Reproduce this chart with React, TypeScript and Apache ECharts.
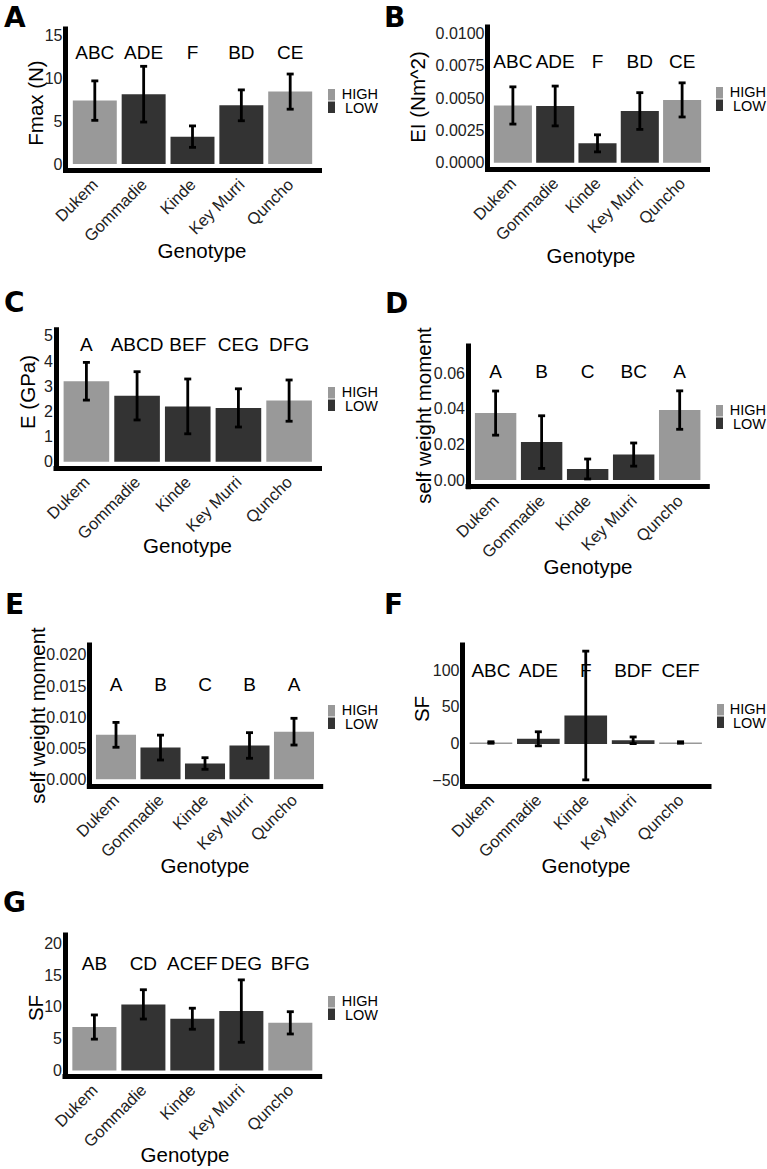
import React, { useEffect, useRef } from "react";
import * as echarts from "echarts";

// ---------- data ----------
const genotypes = ["Dukem", "Gommadie", "Kinde", "Key Murri", "Quncho"];
const nitrogenGroup = ["HIGH", "LOW", "LOW", "LOW", "HIGH"];

const fmaxMean = [7.4, 8.15, 3.2, 6.85, 8.45];
const fmaxSd = [2.3, 3.25, 1.25, 1.8, 2.05];
const fmaxLetters = ["ABC", "ADE", "F", "BD", "CE"];
const fmaxTicks = [0, 5, 10, 15];

const eiMean = [0.00443, 0.00439, 0.0015, 0.004, 0.00486];
const eiSd = [0.00144, 0.00154, 0.00066, 0.00142, 0.00132];
const eiLetters = ["ABC", "ADE", "F", "BD", "CE"];
const eiTicks = [0, 0.0025, 0.005, 0.0075, 0.01];

const eMean = [3.2, 2.62, 2.2, 2.14, 2.43];
const eSd = [0.75, 0.96, 1.09, 0.76, 0.82];
const eLetters = ["A", "ABCD", "BEF", "CEG", "DFG"];
const eTicks = [0, 1, 2, 3, 4, 5];

const swmDMean = [0.0376, 0.0213, 0.0062, 0.0143, 0.0393];
const swmDSd = [0.0124, 0.0148, 0.0056, 0.0065, 0.0108];
const swmDLetters = ["A", "B", "C", "BC", "A"];
const swmDTicks = [0, 0.02, 0.04, 0.06];

const swmEMean = [0.00715, 0.0051, 0.00254, 0.00544, 0.00766];
const swmESd = [0.002, 0.002, 0.00093, 0.00206, 0.00215];
const swmELetters = ["A", "B", "C", "B", "A"];
const swmETicks = [0, 0.005, 0.01, 0.015, 0.02];

const sfFMean = [2, 7, 38.5, 5, 2];
const sfFSd = [1, 9.5, 87, 4.5, 1];
const sfFLetters = ["ABC", "ADE", "F", "BDF", "CEF"];
const sfFTicks = [-50, 0, 50, 100];

const sfGMean = [6.84, 10.4, 8.15, 9.35, 7.5];
const sfGSd = [1.9, 2.3, 1.65, 4.9, 1.75];
const sfGLetters = ["AB", "CD", "ACEF", "DEG", "BFG"];
const sfGTicks = [0, 5, 10, 15, 20];

const legendNames = ["HIGH", "LOW"];

// ---------- layout ----------
const FONT = "'Liberation Sans', Arial, Helvetica, sans-serif";
const HIGH_COLOR = "#999999";
const LOW_COLOR = "#333333";
const TICK_COLOR = "#222";

type Panel = {
  tag: string;
  yTitle: string;
  mean: number[];
  sd: number[];
  letters: string[];
  letterY: number;
  ticks: number[];
  decimals: number;
  yMin: number;
  yMax: number;
  grid: { left: number; top: number; width: number; height: number };
  tagPos: [number, number, "top" | "middle"];
  yTitlePos: [number, number];
  xTitlePos: [number, number];
  legendPos: [number, number, number];
};

const panels: Panel[] = [
  {
    tag: "A", yTitle: "Fmax (N)", mean: fmaxMean, sd: fmaxSd, letters: fmaxLetters,
    letterY: 13, ticks: fmaxTicks, decimals: 0, yMin: -0.75, yMax: 15.75,
    grid: { left: 65.5, top: 29, width: 254, height: 141.5 },
    tagPos: [4, 3, "top"], yTitlePos: [35, 103], xTitlePos: [202, 250], legendPos: [328, 89, 378],
  },
  {
    tag: "B", yTitle: "EI (Nm^2)", mean: eiMean, sd: eiSd, letters: eiLetters,
    letterY: 0.0078, ticks: eiTicks, decimals: 4, yMin: -0.0005, yMax: 0.0105,
    grid: { left: 487.5, top: 27, width: 220, height: 142.2 },
    tagPos: [384, 3, "top"], yTitlePos: [417, 97], xTitlePos: [591, 255], legendPos: [716, 87, 766],
  },
  {
    tag: "C", yTitle: "E (GPa)", mean: eMean, sd: eSd, letters: eLetters,
    letterY: 4.65, ticks: eTicks, decimals: 0, yMin: -0.25, yMax: 5.25,
    grid: { left: 56, top: 329.7, width: 263.5, height: 138.3 },
    tagPos: [4, 302.5, "middle"], yTitlePos: [27, 392], xTitlePos: [187.5, 545], legendPos: [328, 387, 378],
  },
  {
    tag: "D", yTitle: "self weight moment", mean: swmDMean, sd: swmDSd, letters: swmDLetters,
    letterY: 0.061, ticks: swmDTicks, decimals: 2, yMin: -0.00376, yMax: 0.0753,
    grid: { left: 468, top: 346, width: 239.3, height: 140.7 },
    tagPos: [385, 303, "middle"], yTitlePos: [423, 415.5], xTitlePos: [588, 566], legendPos: [716, 405, 766],
  },
  {
    tag: "E", yTitle: "self weight moment", mean: swmEMean, sd: swmESd, letters: swmELetters,
    letterY: 0.0152, ticks: swmETicks, decimals: 3, yMin: -0.00108, yMax: 0.0216,
    grid: { left: 89.3, top: 645, width: 231.4, height: 141 },
    tagPos: [5, 604, "middle"], yTitlePos: [37.5, 715.5], xTitlePos: [205, 865], legendPos: [328, 705, 378],
  },
  {
    tag: "F", yTitle: "SF", mean: sfFMean, sd: sfFSd, letters: sfFLetters,
    letterY: 100, ticks: sfFTicks, decimals: 0, yMin: -56.8, yMax: 133.8,
    grid: { left: 462.5, top: 645, width: 246.5, height: 141 },
    tagPos: [384, 604, "middle"], yTitlePos: [421.5, 709], xTitlePos: [586, 865], legendPos: [717, 704, 766],
  },
  {
    tag: "G", yTitle: "SF", mean: sfGMean, sd: sfGSd, letters: sfGLetters,
    letterY: 16.75, ticks: sfGTicks, decimals: 0, yMin: -0.85, yMax: 21.3,
    grid: { left: 65, top: 935, width: 254.7, height: 141 },
    tagPos: [3, 902.5, "middle"], yTitlePos: [35, 1008], xTitlePos: [185, 1154], legendPos: [328, 996, 378],
  },
];

const X_MIN = 0.4;
const X_MAX = 5.6;

function fmtTick(v: number, d: number): string {
  const s = v.toFixed(d);
  return s.startsWith("-") ? "\u2212" + s.slice(1) : s;
}

function buildOption() {
  const axisLineStyle = { color: "#000", width: 5, cap: "square" as const };
  const grid = panels.map((p) => ({
    left: p.grid.left, top: p.grid.top, width: p.grid.width, height: p.grid.height,
    containLabel: false,
  }));
  const xAxis = panels.map((p, i) => ({
    type: "value", gridIndex: i, min: X_MIN, max: X_MAX,
    splitLine: { show: false },
    axisLine: { show: true, onZero: false, lineStyle: axisLineStyle },
    axisTick: { show: false },
    axisLabel: {
      show: true, customValues: [1, 2, 3, 4, 5],
      formatter: (v: number) => genotypes[Math.round(v) - 1] ?? "",
      rotate: 45, margin: 11, fontSize: 16.5, color: TICK_COLOR, fontFamily: FONT,
    },
  }));
  const yAxis = panels.map((p, i) => ({
    type: "value", gridIndex: i, min: p.yMin, max: p.yMax,
    splitLine: { show: false },
    axisLine: { show: true, onZero: false, lineStyle: axisLineStyle },
    axisTick: { show: false },
    axisLabel: {
      show: true, customValues: p.ticks,
      formatter: (v: number) => fmtTick(v, p.decimals),
      margin: 3, fontSize: 16, color: TICK_COLOR, fontFamily: FONT,
    },
  }));

  const series: any[] = [];
  panels.forEach((p, i) => {
    const bw = (0.9 * p.grid.width) / (X_MAX - X_MIN);
    legendNames.forEach((grp) => {
      series.push({
        type: "bar", name: grp, xAxisIndex: i, yAxisIndex: i,
        barWidth: bw, barGap: "-100%",
        itemStyle: { color: grp === "HIGH" ? HIGH_COLOR : LOW_COLOR },
        data: p.mean
          .map((m, j) => (nitrogenGroup[j] === grp ? [j + 1, m] : null))
          .filter((d) => d !== null),
        z: 2,
      });
    });
    series.push({
      type: "custom", name: "errorbar-" + p.tag, xAxisIndex: i, yAxisIndex: i,
      data: p.mean.map((m, j) => [j + 1, m - p.sd[j], m + p.sd[j]]),
      z: 10,
      renderItem: (_params: any, api: any) => {
        const x = api.value(0);
        const lo = api.coord([x, api.value(1)]);
        const hi = api.coord([x, api.value(2)]);
        const hw = 3.5;
        const st = { stroke: "#000", lineWidth: 2.8 };
        return {
          type: "group",
          children: [
            { type: "line", shape: { x1: lo[0], y1: lo[1], x2: hi[0], y2: hi[1] }, style: st },
            { type: "line", shape: { x1: lo[0] - hw, y1: lo[1], x2: lo[0] + hw, y2: lo[1] }, style: st },
            { type: "line", shape: { x1: hi[0] - hw, y1: hi[1], x2: hi[0] + hw, y2: hi[1] }, style: st },
          ],
        };
      },
    });
    series.push({
      type: "custom", name: "letters-" + p.tag, xAxisIndex: i, yAxisIndex: i,
      data: p.letters.map((_t, j) => [j + 1, p.letterY]),
      z: 11,
      renderItem: (params: any, api: any) => {
        const c = api.coord([api.value(0), api.value(1)]);
        return {
          type: "text", x: c[0], y: c[1],
          style: {
            text: p.letters[params.dataIndex], fontSize: 19, fontFamily: FONT,
            fill: "#000", align: "center", verticalAlign: "middle",
          },
        };
      },
    });
  });

  const graphic: any[] = [];
  panels.forEach((p) => {
    graphic.push({
      type: "text", x: p.tagPos[0], y: p.tagPos[1],
      style: {
        text: p.tag, fontSize: 28, fontWeight: "bold", fontFamily: "'DejaVu Sans', sans-serif",
        fill: "#000", align: "left", verticalAlign: p.tagPos[2],
      },
    });
    graphic.push({
      type: "text", x: p.yTitlePos[0], y: p.yTitlePos[1], rotation: Math.PI / 2,
      style: {
        text: p.yTitle, fontSize: 20.5, fontFamily: FONT, fill: "#000",
        align: "center", verticalAlign: "middle",
      },
    });
    graphic.push({
      type: "text", x: p.xTitlePos[0], y: p.xTitlePos[1],
      style: {
        text: "Genotype", fontSize: 20.5, fontFamily: FONT, fill: "#000",
        align: "center", verticalAlign: "middle",
      },
    });
    const [lx, ly, lr] = p.legendPos;
    const kh = 11.5;
    legendNames.forEach((grp, k) => {
      graphic.push({
        type: "rect", shape: { x: lx, y: ly + k * (kh + 1), width: 7, height: kh },
        style: { fill: grp === "HIGH" ? HIGH_COLOR : LOW_COLOR },
      });
    });
    graphic.push({
      type: "text", x: lr, y: ly + kh + 0.5,
      style: {
        text: legendNames.join("\n"), fontSize: 14.5, lineHeight: 14.5, fontFamily: FONT, fill: "#000",
        align: "right", verticalAlign: "middle",
      },
    });
  });

  return { animation: false, backgroundColor: "#fff", grid, xAxis, yAxis, series, graphic };
}

export default function App() {
  const ref = useRef<HTMLDivElement>(null);
  useEffect(() => {
    document.body.style.margin = "0";
    if (!ref.current) return;
    const chart = echarts.init(ref.current, undefined, { renderer: "svg" });
    chart.setOption(buildOption() as any);
    return () => chart.dispose();
  }, []);
  return <div ref={ref} style={{ width: 767, height: 1169 }} />;
}
